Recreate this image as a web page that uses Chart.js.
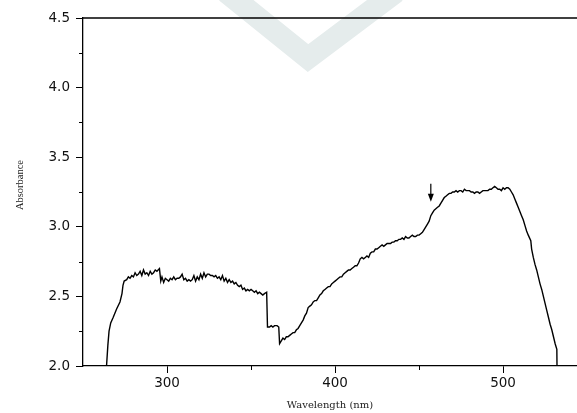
<!DOCTYPE html>
<html>
<head>
<meta charset="utf-8">
<title>Absorbance spectrum</title>
<script src="https://cdn.jsdelivr.net/npm/chart.js@4.4.1/dist/chart.umd.min.js"></script>
<style>
  html, body { margin: 0; padding: 0; background: #fff; }
  #chart { display: block; }
</style>
</head>
<body>
<canvas id="chart" width="577" height="413"></canvas>
<script>
// Spectrum (wavelength in nm, absorbance)
const wavelength = [
  264.0, 264.8, 265.5, 266.5, 268, 270, 272, 273.2, 273.8, 274.5,
  276, 277, 278, 279, 280, 281, 282, 283, 284, 285,
  286, 287, 288, 289, 290, 291, 292, 293, 294, 295.5,
  296.3, 297, 298, 299, 300, 301, 302, 303, 304, 305,
  306, 307, 308, 309, 310, 311, 312, 313, 314, 315,
  316, 317, 318, 319, 320, 321, 322, 323, 324, 325,
  326, 327, 328, 329, 330, 331, 332, 333, 334, 335,
  336, 337, 338, 339, 340, 341, 342, 343, 344, 345,
  346, 347, 348, 349, 350, 351, 352, 353, 354, 355,
  356, 357, 358, 359.3, 359.8, 361, 362, 363, 364, 365.5,
  366.5, 367, 368, 369, 370, 371, 372, 373, 374, 375,
  376, 377, 378, 379, 380, 381, 382, 383, 384, 385,
  386, 387, 388, 389, 390, 391, 392, 393, 394, 395,
  396, 397, 398, 399, 400, 401, 402, 403, 404, 405,
  406, 407, 408, 409, 410, 411, 412, 413, 414, 415,
  416, 417, 418, 419, 420, 421, 422, 423, 424, 425,
  426, 427, 428, 429, 430, 431, 432, 433, 434, 435,
  436, 437, 438, 439, 440, 441, 442, 443, 444, 445,
  446, 447, 448, 449, 450, 451, 452, 453, 454, 455,
  456, 457, 458, 459, 460, 461, 462, 463, 464, 465,
  466, 467, 468, 469, 470, 471, 472, 473, 474, 475,
  476, 477, 478, 479, 480, 481, 482, 483, 484, 485,
  486, 487, 488, 489, 490, 491, 492, 493, 494, 495,
  496, 497, 498, 499, 500, 501, 502, 503, 504, 505,
  506, 507, 508, 509, 510, 511, 512, 513, 514, 515,
  516.5, 517, 518, 519, 520, 521, 522, 523, 524, 525,
  526, 527, 528, 529, 530, 531, 532, 532.1
];
const absorbance = [
  2.00, 2.15, 2.25, 2.31, 2.35, 2.41, 2.46, 2.52, 2.58, 2.61,
  2.62, 2.64, 2.63, 2.65, 2.64, 2.67, 2.65, 2.66, 2.68, 2.65,
  2.69, 2.66, 2.67, 2.65, 2.68, 2.66, 2.67, 2.69, 2.68, 2.70,
  2.61, 2.64, 2.60, 2.63, 2.62, 2.61, 2.63, 2.62, 2.64, 2.62,
  2.63, 2.63, 2.64, 2.66, 2.62, 2.63, 2.61, 2.62, 2.61, 2.62,
  2.65, 2.61, 2.64, 2.62, 2.66, 2.63, 2.67, 2.64, 2.66, 2.66,
  2.65, 2.65, 2.64, 2.65, 2.63, 2.64, 2.62, 2.65, 2.61, 2.63,
  2.60, 2.62, 2.60, 2.61, 2.59, 2.60, 2.58, 2.57, 2.58, 2.55,
  2.56, 2.54, 2.55, 2.54, 2.55, 2.54, 2.53, 2.54, 2.52, 2.53,
  2.52, 2.51, 2.52, 2.53, 2.28, 2.28, 2.29, 2.28, 2.29, 2.29,
  2.28, 2.16, 2.18, 2.20, 2.19, 2.21, 2.21, 2.22, 2.23, 2.24,
  2.24, 2.26, 2.27, 2.29, 2.31, 2.33, 2.36, 2.38, 2.42, 2.43,
  2.44, 2.46, 2.47, 2.47, 2.49, 2.51, 2.52, 2.54, 2.55, 2.56,
  2.57, 2.57, 2.59, 2.60, 2.61, 2.62, 2.63, 2.64, 2.64, 2.66,
  2.67, 2.68, 2.69, 2.69, 2.70, 2.71, 2.72, 2.72, 2.74, 2.77,
  2.78, 2.77, 2.78, 2.79, 2.78, 2.81, 2.82, 2.82, 2.84, 2.84,
  2.85, 2.86, 2.87, 2.86, 2.87, 2.88, 2.88, 2.88, 2.89, 2.89,
  2.90, 2.90, 2.91, 2.91, 2.92, 2.91, 2.93, 2.92, 2.92, 2.93,
  2.94, 2.93, 2.93, 2.94, 2.94, 2.95, 2.96, 2.98, 3.00, 3.02,
  3.04, 3.08, 3.10, 3.12, 3.13, 3.14, 3.15, 3.17, 3.19, 3.21,
  3.22, 3.23, 3.24, 3.24, 3.25, 3.25, 3.26, 3.25, 3.26, 3.26,
  3.25, 3.27, 3.26, 3.26, 3.26, 3.25, 3.25, 3.24, 3.25, 3.25,
  3.24, 3.25, 3.26, 3.26, 3.26, 3.26, 3.27, 3.27, 3.28, 3.29,
  3.28, 3.27, 3.27, 3.26, 3.28, 3.27, 3.28, 3.28, 3.27, 3.25,
  3.23, 3.20, 3.17, 3.14, 3.11, 3.08, 3.05, 3.01, 2.97, 2.94,
  2.90, 2.84, 2.78, 2.73, 2.69, 2.64, 2.59, 2.55, 2.50, 2.45,
  2.40, 2.35, 2.30, 2.26, 2.21, 2.16, 2.12, 2.00
];

// Axis ticks
const xTicks = [300, 400, 500];
const xMinorTicks = [350, 450];
const yTicks = [2.0, 2.5, 3.0, 3.5, 4.0, 4.5];
const yMinorTicks = [2.25, 2.75, 3.25, 3.75, 4.25];
const xRange = [250, 544];
const yRange = [2.0, 4.5];

const xTitle = 'Wavelength (nm)';
const yTitle = 'Absorbance';

// Arrow marking the shoulder: [wavelength, top absorbance, tip absorbance]
const arrowMark = [457, 3.31, 3.18];

const tickFont = { family: "'DejaVu Sans', Arial, sans-serif", size: 13.5 };
const titleFont = { family: "'DejaVu Serif', 'Times New Roman', serif", size: 10 };

// Faint watermark behind the chart
const watermarkPlugin = {
  id: 'watermark',
  beforeDraw(chart) {
    const ctx = chart.ctx;
    ctx.save();
    ctx.strokeStyle = 'rgb(229, 236, 236)';
    ctx.lineWidth = 22;
    ctx.lineJoin = 'miter';
    ctx.beginPath();
    ctx.moveTo(226, -8);
    ctx.lineTo(308, 58);
    ctx.lineTo(396, -8);
    ctx.stroke();
    ctx.restore();
  }
};

// Top frame line, minor ticks, y title and the arrow
const framePlugin = {
  id: 'frame',
  afterDraw(chart) {
    const ctx = chart.ctx;
    const area = chart.chartArea;
    const x = chart.scales.x;
    const y = chart.scales.y;
    ctx.save();
    ctx.strokeStyle = '#000';
    ctx.lineWidth = 1.3;
    ctx.beginPath();
    ctx.moveTo(area.left, area.top);
    ctx.lineTo(area.right, area.top);
    ctx.stroke();

    ctx.lineWidth = 1;
    ctx.beginPath();
    xMinorTicks.forEach(v => {
      const px = Math.round(x.getPixelForValue(v)) + 0.5;
      ctx.moveTo(px, area.bottom);
      ctx.lineTo(px, area.bottom + 4);
    });
    yMinorTicks.forEach(v => {
      const py = Math.round(y.getPixelForValue(v)) + 0.5;
      ctx.moveTo(area.left, py);
      ctx.lineTo(area.left - 4, py);
    });
    ctx.stroke();

    // y axis title, a little above the middle as in the source figure
    ctx.save();
    ctx.translate(20, y.getPixelForValue(3.3));
    ctx.rotate(-Math.PI / 2);
    ctx.fillStyle = '#222';
    ctx.font = "10.5px 'Liberation Serif', 'Times New Roman', serif";
    ctx.textAlign = 'center';
    ctx.textBaseline = 'middle';
    ctx.fillText(yTitle, 0, 0);
    ctx.restore();

    const ax = x.getPixelForValue(arrowMark[0]);
    const aTop = y.getPixelForValue(arrowMark[1]);
    const aTip = y.getPixelForValue(arrowMark[2]);
    ctx.lineWidth = 1.2;
    ctx.beginPath();
    ctx.moveTo(ax, aTop);
    ctx.lineTo(ax, aTip - 6);
    ctx.stroke();
    ctx.fillStyle = '#000';
    ctx.beginPath();
    ctx.moveTo(ax - 3, aTip - 8);
    ctx.lineTo(ax + 3, aTip - 8);
    ctx.lineTo(ax, aTip);
    ctx.closePath();
    ctx.fill();
    ctx.restore();
  }
};

const points = wavelength.map((w, i) => ({ x: w, y: absorbance[i] }));

new Chart(document.getElementById('chart').getContext('2d'), {
  type: 'line',
  data: {
    datasets: [{
      data: points,
      borderColor: '#000',
      borderWidth: 1.4,
      pointRadius: 0,
      tension: 0,
      fill: false
    }]
  },
  options: {
    responsive: false,
    animation: false,
    layout: { padding: { top: 18, right: 0, left: 0, bottom: 0 } },
    plugins: {
      legend: { display: false },
      tooltip: { enabled: false }
    },
    scales: {
      x: {
        type: 'linear',
        min: xRange[0],
        max: xRange[1],
        afterBuildTicks: scale => { scale.ticks = xTicks.map(v => ({ value: v })); },
        afterFit: scale => { scale.height = 47; },
        border: { color: '#000', width: 1.3 },
        grid: { drawOnChartArea: false, drawTicks: true, tickLength: 7, color: '#000', lineWidth: 1 },
        ticks: { color: '#111', font: tickFont, padding: 2, maxRotation: 0 },
        title: { display: true, text: xTitle, color: '#222', font: titleFont, padding: { top: 0, bottom: 2 } }
      },
      y: {
        type: 'linear',
        min: yRange[0],
        max: yRange[1],
        afterBuildTicks: scale => { scale.ticks = yTicks.map(v => ({ value: v })); },
        afterFit: scale => { scale.width = 83; },
        border: { color: '#000', width: 1.3 },
        grid: { drawOnChartArea: false, drawTicks: true, tickLength: 7, color: '#000', lineWidth: 1 },
        ticks: { color: '#111', font: tickFont, padding: 6, callback: v => v.toFixed(1) }
      }
    }
  },
  plugins: [watermarkPlugin, framePlugin]
});
</script>
</body>
</html>
